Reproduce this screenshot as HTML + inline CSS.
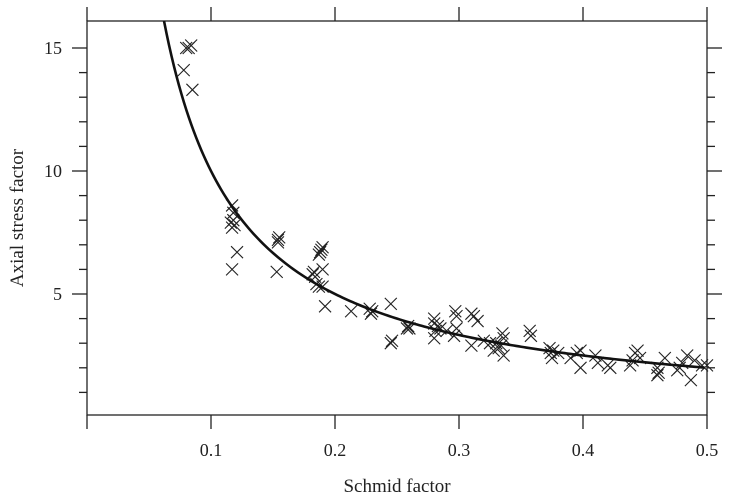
<!DOCTYPE html>
<html><head><meta charset="utf-8"><style>
html,body{margin:0;padding:0;background:#fff;}
svg{display:block;font-family:"Liberation Serif",serif;}
</style></head><body>
<svg id="chart" width="729" height="498" viewBox="0 0 729 498"></svg>
<script>
const xTicks=[0,0.1,0.2,0.3,0.4,0.5];
const xTickLabels=["","0.1","0.2","0.3","0.4","0.5"];
const yMajor=[5,10,15];
const yMinor=[1,2,3,4,6,7,8,9,11,12,13,14];
const px=[0.080,0.084,0.082,0.078,0.085,0.117,0.118,0.116,0.117,0.119,0.118,0.121,0.117,0.154,0.155,0.154,0.153,0.182,0.183,0.184,0.185,0.187,0.190,0.187,0.189,0.190,0.188,0.190,0.192,0.213,0.228,0.229,0.230,0.245,0.245,0.246,0.258,0.259,0.260,0.280,0.280,0.281,0.280,0.283,0.285,0.290,0.297,0.298,0.298,0.296,0.310,0.312,0.315,0.310,0.320,0.325,0.328,0.330,0.332,0.335,0.336,0.336,0.334,0.357,0.358,0.373,0.374,0.375,0.376,0.380,0.390,0.395,0.398,0.398,0.410,0.412,0.420,0.422,0.438,0.440,0.442,0.444,0.446,0.460,0.460,0.461,0.466,0.476,0.478,0.480,0.484,0.490,0.496,0.487,0.500];
const py=[15.0,15.1,15.0,14.1,13.3,8.6,8.3,7.9,7.7,7.8,8.0,6.7,6.0,7.2,7.3,7.1,5.9,5.8,5.9,5.7,5.4,5.3,5.3,6.6,6.8,6.9,6.7,6.0,4.5,4.3,4.4,4.2,4.3,4.6,3.0,3.1,3.6,3.7,3.6,4.0,3.8,3.5,3.2,3.7,3.6,3.5,4.3,4.1,3.6,3.3,4.2,4.1,3.9,2.9,3.1,3.0,2.7,3.0,2.8,3.4,3.2,2.5,2.9,3.5,3.3,2.8,2.6,2.4,2.7,2.6,2.4,2.6,2.7,2.0,2.5,2.2,2.1,2.0,2.1,2.3,2.6,2.7,2.4,2.0,1.7,1.8,2.4,1.9,2.0,2.2,2.5,2.3,2.1,1.5,2.1];

const L=87,R=707,T=21,B=415;
const X=v=>L+(v-0)/(0.5-0)*(R-L);
const Y=v=>417-v*24.6;
const NS="http://www.w3.org/2000/svg";
const svg=document.getElementById('chart');
function mk(tag,attrs,parent){const e=document.createElementNS(NS,tag);for(const k in attrs)e.setAttribute(k,attrs[k]);(parent||svg).appendChild(e);return e;}

const frame=mk('rect',{x:L,y:T,width:R-L,height:B-T,fill:'none',stroke:'#222','stroke-width':1.3});



const xg=mk('g',{});


xTicks.forEach((t,i)=>{
  const x=X(t);
  mk('line',{x1:x,x2:x,y1:B,y2:B+14,stroke:'#222','stroke-width':1.3},xg);
  mk('line',{x1:x,x2:x,y1:T,y2:T-14,stroke:'#222','stroke-width':1.3},xg);
  if(xTickLabels[i]){
    const tx=mk('text',{x:x,y:456,'text-anchor':'middle','font-size':18,fill:'#222'},xg);
    tx.textContent=xTickLabels[i];
    
    
  }
});
const yg=mk('g',{});


yMajor.forEach(t=>{
  const y=Y(t);
  mk('line',{x1:L,x2:L-15,y1:y,y2:y,stroke:'#222','stroke-width':1.3},yg);
  mk('line',{x1:R,x2:R+15,y1:y,y2:y,stroke:'#222','stroke-width':1.3},yg);
  const tx=mk('text',{x:62,y:y+6,'text-anchor':'end','font-size':18,fill:'#222'},yg);
  tx.textContent=String(t);
  
  
});
yMinor.forEach(t=>{
  const y=Y(t);
  mk('line',{x1:L,x2:L-8,y1:y,y2:y,stroke:'#222','stroke-width':1.3},yg);
  mk('line',{x1:R,x2:R+8,y1:y,y2:y,stroke:'#222','stroke-width':1.3},yg);
});

const xt=mk('text',{x:397,y:492,'text-anchor':'middle','font-size':19,fill:'#222'});
xt.textContent='Schmid factor';


const yt=mk('text',{x:0,y:0,'text-anchor':'middle','font-size':19,fill:'#222',transform:'translate(23,218) rotate(-90)'});
yt.textContent='Axial stress factor';



const pg=mk('g',{stroke:'#222','stroke-width':1.1,fill:'none'});


px.forEach((v,i)=>{
  const cx=X(v),cy=Y(py[i]),s=6;
  const p=mk('path',{d:`M${cx-s},${cy-s}L${cx+s},${cy+s}M${cx-s},${cy+s}L${cx+s},${cy-s}`},pg);
  
  
});

let d='';
const ymax=(417-T)/24.6;
for(let v=1/ymax;v<=0.5001;v+=0.002){d+=(d?'L':'M')+X(v).toFixed(2)+','+Y(1/v).toFixed(2);}
const c=mk('path',{d:d,fill:'none',stroke:'#111','stroke-width':2.6});


</script>
</body></html>
